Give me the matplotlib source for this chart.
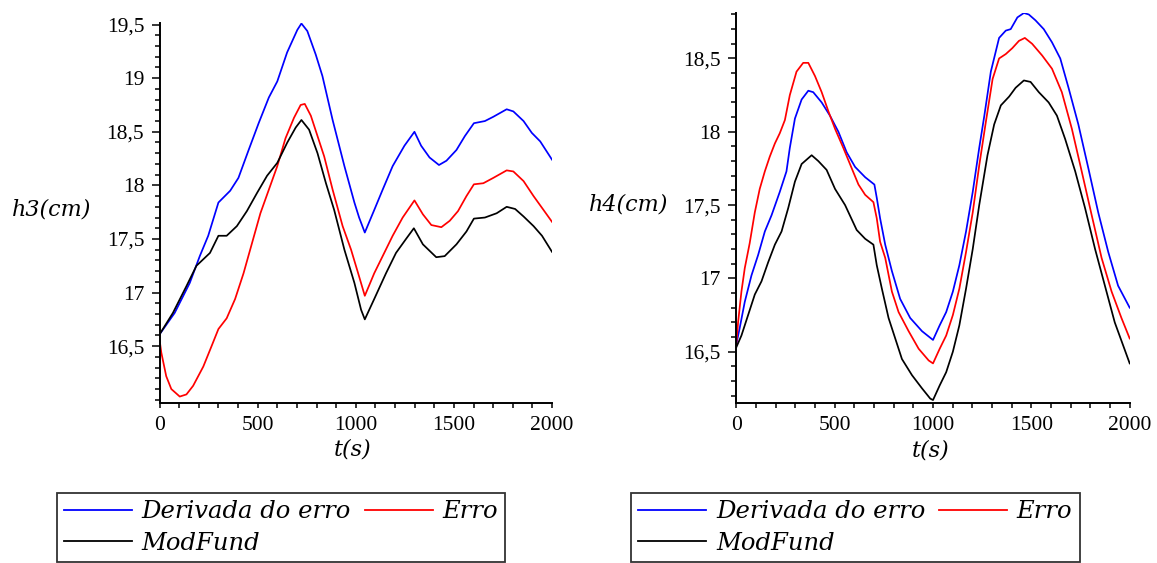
import matplotlib.pyplot as plt
from matplotlib.ticker import MultipleLocator, FuncFormatter

# --- datos ---
labels = ['Derivada do erro', 'Erro', 'ModFund']
colors = ['#0000ff', '#ff0000', '#000000']

# h3 (painel esquerdo)
t_h3_der = [0, 77, 154, 205, 248, 300, 360, 402, 454, 505, 557, 600, 650, 702, 723, 753, 796, 830, 882, 942, 993,
            1017, 1046, 1094, 1137, 1188, 1248, 1299, 1333, 1376, 1424, 1462, 1513, 1556, 1602, 1658, 1701, 1769,
            1803, 1855, 1897, 1940, 2000]
h3_der = [16.61, 16.81, 17.09, 17.34, 17.53, 17.84, 17.95, 18.07, 18.33, 18.58, 18.82, 18.97, 19.24, 19.45, 19.51,
          19.44, 19.22, 19.02, 18.61, 18.18, 17.84, 17.70, 17.56, 17.77, 17.96, 18.18, 18.37, 18.50, 18.37, 18.26,
          18.19, 18.23, 18.33, 18.46, 18.58, 18.60, 18.64, 18.71, 18.69, 18.60, 18.49, 18.41, 18.24]

t_h3_err = [0, 9, 34, 60, 103, 137, 171, 223, 265, 300, 342, 385, 428, 471, 514, 557, 600, 642, 685, 719, 740, 771,
            805, 839, 882, 933, 976, 1017, 1046, 1094, 1137, 1188, 1239, 1299, 1342, 1385, 1436, 1479, 1521, 1564,
            1602, 1650, 1701, 1769, 1803, 1855, 1906, 1957, 2000]
h3_err = [16.56, 16.44, 16.22, 16.10, 16.03, 16.05, 16.13, 16.31, 16.50, 16.66, 16.76, 16.94, 17.18, 17.46, 17.74,
          17.96, 18.18, 18.44, 18.63, 18.75, 18.76, 18.65, 18.46, 18.27, 17.96, 17.62, 17.40, 17.15, 16.97, 17.18,
          17.34, 17.53, 17.70, 17.86, 17.73, 17.63, 17.61, 17.67, 17.76, 17.90, 18.01, 18.02, 18.07, 18.14, 18.13,
          18.04, 17.90, 17.77, 17.66]

t_h3_mod = [0, 68, 137, 188, 257, 300, 342, 394, 445, 497, 548, 600, 651, 694, 723, 762, 805, 848, 890, 942, 993,
            1027, 1046, 1094, 1154, 1205, 1256, 1296, 1342, 1410, 1453, 1513, 1564, 1602, 1658, 1718, 1769, 1812,
            1855, 1906, 1949, 2000]
h3_mod = [16.61, 16.81, 17.06, 17.25, 17.37, 17.53, 17.53, 17.62, 17.76, 17.93, 18.09, 18.21, 18.40, 18.54, 18.61,
          18.52, 18.30, 18.02, 17.77, 17.40, 17.09, 16.84, 16.75, 16.94, 17.18, 17.37, 17.50, 17.60, 17.45, 17.33,
          17.34, 17.45, 17.57, 17.69, 17.70, 17.74, 17.80, 17.78, 17.71, 17.62, 17.53, 17.38]

# h4 (painel direito)
t_h4_der = [0, 17, 43, 77, 111, 145, 179, 221, 255, 272, 298, 332, 366, 391, 434, 476, 519, 561, 604, 655, 702, 714,
            731, 757, 791, 833, 884, 944, 1000, 1034, 1067, 1101, 1134, 1168, 1202, 1235, 1261, 1294, 1336, 1370,
            1395, 1429, 1462, 1487, 1521, 1563, 1605, 1647, 1689, 1739, 1790, 1840, 1891, 1941, 2000]
h4_der = [16.55, 16.66, 16.84, 17.02, 17.16, 17.32, 17.43, 17.59, 17.73, 17.89, 18.09, 18.22, 18.28, 18.27, 18.20,
          18.11, 18.00, 17.86, 17.76, 17.69, 17.64, 17.55, 17.41, 17.23, 17.05, 16.86, 16.73, 16.64, 16.58, 16.68,
          16.77, 16.91, 17.09, 17.32, 17.59, 17.89, 18.11, 18.41, 18.64, 18.69, 18.70, 18.78, 18.81, 18.80, 18.76,
          18.70, 18.61, 18.50, 18.30, 18.05, 17.75, 17.45, 17.18, 16.95, 16.80]

t_h4_err = [0, 9, 26, 43, 68, 94, 119, 145, 170, 196, 221, 247, 272, 306, 340, 366, 400, 434, 468, 502, 544, 587,
            621, 655, 697, 714, 731, 757, 791, 825, 876, 927, 978, 1000, 1034, 1067, 1101, 1134, 1168, 1202, 1235,
            1269, 1303, 1336, 1370, 1403, 1437, 1467, 1504, 1555, 1605, 1655, 1706, 1756, 1807, 1857, 1908, 1958,
            2000]
h4_err = [16.55, 16.70, 16.91, 17.07, 17.24, 17.45, 17.61, 17.73, 17.83, 17.92, 17.99, 18.08, 18.25, 18.41, 18.47,
          18.47, 18.38, 18.27, 18.14, 18.02, 17.89, 17.75, 17.64, 17.57, 17.52, 17.41, 17.25, 17.14, 16.91, 16.77,
          16.64, 16.52, 16.44, 16.42, 16.52, 16.61, 16.75, 16.93, 17.18, 17.45, 17.77, 18.07, 18.36, 18.50, 18.53,
          18.57, 18.62, 18.64, 18.60, 18.52, 18.43, 18.27, 18.02, 17.73, 17.43, 17.14, 16.91, 16.73, 16.59]

t_h4_mod = [0, 26, 60, 94, 128, 162, 196, 230, 264, 298, 332, 383, 417, 459, 502, 553, 612, 655, 697, 714, 740, 774,
            808, 842, 893, 944, 986, 1000, 1034, 1067, 1101, 1134, 1168, 1202, 1235, 1277, 1311, 1345, 1387, 1420,
            1462, 1496, 1538, 1588, 1630, 1672, 1723, 1773, 1824, 1874, 1924, 2000]
h4_mod = [16.53, 16.61, 16.75, 16.89, 16.98, 17.11, 17.23, 17.32, 17.48, 17.66, 17.78, 17.84, 17.80, 17.74, 17.61,
          17.50, 17.33, 17.27, 17.23, 17.09, 16.93, 16.73, 16.59, 16.45, 16.34, 16.25, 16.18, 16.17, 16.27, 16.36,
          16.50, 16.68, 16.93, 17.20, 17.50, 17.84, 18.05, 18.18, 18.24, 18.30, 18.35, 18.34, 18.27, 18.20, 18.11,
          17.95, 17.73, 17.48, 17.20, 16.95, 16.70, 16.42]

LAB_FONT = {'family': 'DejaVu Serif', 'style': 'italic', 'size': 16}
LEG_FONT = {'family': 'DejaVu Serif', 'style': 'italic', 'size': 17.5}


def painel(fig, rect, series, ylim, ylabel, yticks, leg_xy):
    ax = fig.add_axes(rect)
    lines = []
    for (t, v), c, lab in zip(series, colors, labels):
        ln, = ax.plot(t, v, color=c, lw=1.25, label=lab)
        lines.append(ln)

    ax.set_xlim(0, 2000)
    ax.set_ylim(*ylim)
    for s in ('top', 'right'):
        ax.spines[s].set_visible(False)
    for s in ('left', 'bottom'):
        ax.spines[s].set_linewidth(1.4)

    ax.xaxis.set_major_locator(MultipleLocator(500))
    ax.xaxis.set_minor_locator(MultipleLocator(100))
    ax.set_yticks(yticks)
    ax.yaxis.set_minor_locator(MultipleLocator(0.1))
    ax.yaxis.set_major_formatter(FuncFormatter(lambda v, p: f'{v:g}'.replace('.', ',')))

    ax.tick_params(axis='y', which='major', direction='out', length=6, width=1.1, pad=5)
    ax.tick_params(axis='y', which='minor', direction='out', length=3.5, width=1.1)
    ax.tick_params(axis='x', which='both', direction='out', length=3.5, width=1.1, pad=6)
    for lb in ax.get_xticklabels() + ax.get_yticklabels():
        lb.set_fontfamily('Liberation Serif')
        lb.set_fontsize(15.5)

    ax.text(-0.275, 0.508, ylabel, transform=ax.transAxes, ha='center', va='center',
            fontdict=LAB_FONT)
    ax.text(0.493, -0.123, 't(s)', transform=ax.transAxes, ha='center', va='center',
            fontdict=LAB_FONT)

    # orden para que la leyenda quede: fila 1 Derivada / Erro, fila 2 ModFund
    order = [0, 2, 1]
    leg = fig.legend([lines[i] for i in order], [labels[i] for i in order],
                     loc='upper left', bbox_to_anchor=leg_xy, bbox_transform=fig.transFigure,
                     ncol=2, prop=LEG_FONT, frameon=True, fancybox=False, shadow=False,
                     handlelength=2.8, handletextpad=0.4, columnspacing=0.55,
                     labelspacing=0.35, borderpad=0.3, borderaxespad=0.0)
    leg.get_frame().set_edgecolor('black')
    leg.get_frame().set_linewidth(1.3)
    for h in leg.legend_handles:
        h.set_linewidth(1.3)
    return ax


fig = plt.figure(figsize=(11.57, 5.63), dpi=100)

painel(fig, [0.1379, 0.2842, 0.3392, 0.675],
       [(t_h3_der, h3_der), (t_h3_err, h3_err), (t_h3_mod, h3_mod)],
       (15.97, 19.515), 'h3(cm)', [16.5, 17, 17.5, 18, 18.5, 19, 19.5], (56.7 / 1157, 1 - 493 / 563))

painel(fig, [0.6364, 0.2842, 0.3400, 0.6927],
       [(t_h4_der, h4_der), (t_h4_err, h4_err), (t_h4_mod, h4_mod)],
       (16.15, 18.81), 'h4(cm)', [16.5, 17, 17.5, 18, 18.5], (631 / 1157, 1 - 493 / 563))

fig.savefig('out.png', dpi=100)
